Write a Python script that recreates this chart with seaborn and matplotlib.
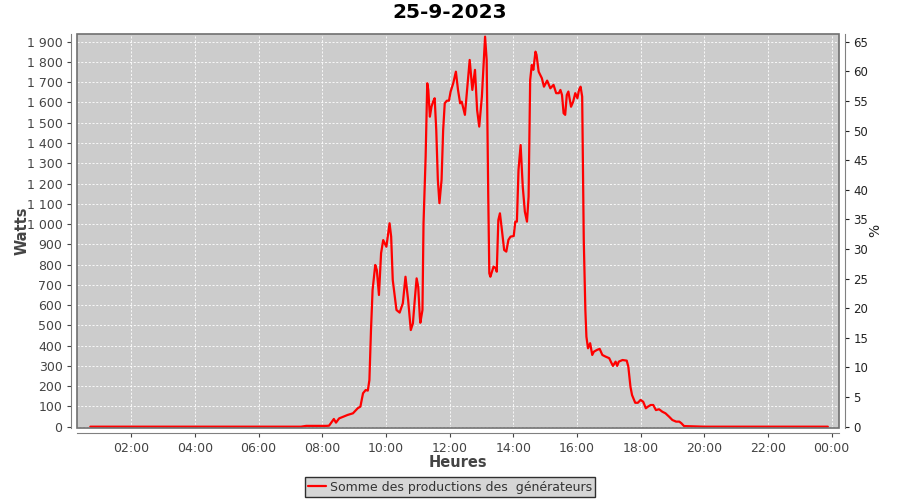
import matplotlib
matplotlib.use('Agg')
import matplotlib.pyplot as plt
import matplotlib.dates as mdates
from matplotlib.patches import Rectangle
import seaborn as sns
import pandas as pd

# heure de la mesure et puissance totale (W)
heures = ['00:43', '02:00', '04:00', '06:00', '07:20', '07:30', '08:08',
          '08:13', '08:22', '08:26', '08:32', '08:48', '08:58', '09:07', '09:12',
          '09:17', '09:22', '09:26', '09:29', '09:32', '09:35', '09:40', '09:43',
          '09:47', '09:51', '09:55', '10:01', '10:07', '10:10', '10:13', '10:20',
          '10:26', '10:32', '10:37', '10:42', '10:47', '10:51', '10:55', '10:58',
          '11:01', '11:04', '11:05', '11:09', '11:11', '11:15', '11:18', '11:20',
          '11:23', '11:26', '11:29', '11:32', '11:35', '11:38', '11:41', '11:45',
          '11:48', '11:51', '11:55', '11:59', '12:02', '12:07', '12:12', '12:16',
          '12:20', '12:23', '12:29', '12:32', '12:38', '12:43', '12:48', '12:52',
          '12:56', '13:01', '13:04', '13:07', '13:10', '13:13', '13:15', '13:17',
          '13:23', '13:27', '13:29', '13:32', '13:35', '13:38', '13:43', '13:47',
          '13:51', '13:55', '14:01', '14:04', '14:07', '14:10', '14:14', '14:18',
          '14:22', '14:26', '14:29', '14:32', '14:35', '14:38', '14:42', '14:44',
          '14:48', '14:54', '14:58', '15:04', '15:10', '15:16', '15:21', '15:26',
          '15:29', '15:32', '15:35', '15:38', '15:41', '15:44', '15:49', '15:53',
          '15:57', '16:01', '16:04', '16:07', '16:10', '16:13', '16:16', '16:18',
          '16:21', '16:25', '16:29', '16:32', '16:38', '16:43', '16:48', '16:54',
          '17:01', '17:04', '17:08', '17:13', '17:16', '17:19', '17:26', '17:34',
          '17:37', '17:41', '17:44', '17:50', '17:55', '18:00', '18:05', '18:10',
          '18:14', '18:19', '18:24', '18:29', '18:35', '18:41', '18:47', '18:54',
          '19:00', '19:07', '19:13', '19:17', '19:22', '20:00', '22:00', '23:53']
watts = [0, 0, 0, 0, 0, 4, 4,
         5, 38, 20, 41, 58, 66, 91, 99,
         165, 181, 178, 230, 477, 675, 798, 773,
         650, 856, 921, 888, 1004, 938, 724, 576,
         563, 609, 740, 625, 477, 510, 642, 732,
         691, 543, 513, 576, 1004, 1333, 1695, 1662,
         1530, 1579, 1604, 1621, 1464, 1218, 1103, 1218,
         1464, 1596, 1609, 1609, 1653, 1695, 1752, 1662,
         1596, 1604, 1539, 1629, 1810, 1662, 1761, 1563,
         1481, 1629, 1777, 1925, 1810, 1135, 757, 740,
         790, 782, 765, 1020, 1053, 987, 872, 864,
         922, 938, 941, 1012, 1012, 1267, 1390, 1185,
         1061, 1012, 1135, 1711, 1785, 1761, 1851, 1835,
         1752, 1720, 1678, 1708, 1670, 1687, 1646, 1646,
         1662, 1637, 1547, 1539, 1637, 1654, 1579, 1604,
         1646, 1621, 1662, 1678, 1629, 922, 576, 444,
         387, 412, 354, 370, 379, 384, 354, 346,
         338, 321, 300, 321, 300, 321, 329, 326,
         296, 197, 156, 118, 118, 132, 123, 91,
         99, 107, 107, 82, 86, 74, 66, 49,
         33, 25, 25, 17, 3, 0, 0, 0]

watt_ticks = list(range(0, 2000, 100))
pct_ticks = list(range(0, 70, 5))
serie = 'Somme des productions des  générateurs'

df = pd.DataFrame({'heure': pd.to_datetime(['2023-09-25 ' + h for h in heures]),
                   'watts': watts})

sns.set_style('darkgrid', {'axes.facecolor': '#cccccc', 'grid.color': 'white',
                           'grid.linestyle': '--'})
plt.rcParams['font.family'] = ['DejaVu Sans']

fig = plt.figure(figsize=(9, 5), dpi=100)
ax = fig.add_axes([0.0856, 0.145, 0.8466, 0.787])
sns.lineplot(data=df, x='heure', y='watts', color='#ff0000', linewidth=1.6,
             ax=ax, label=serie, legend=False)

ax.set_xlim(pd.Timestamp('2023-09-25 00:18'), pd.Timestamp('2023-09-26 00:14'))
ax.set_ylim(-4, 1938)
ax.set_yticks(watt_ticks)
ax.set_yticklabels([f'{v:,}'.replace(',', '\u00a0') for v in watt_ticks])
ax.xaxis.set_major_locator(mdates.HourLocator(byhour=range(0, 24, 2)))
ax.xaxis.set_major_formatter(mdates.DateFormatter('%H:%M'))
ax.grid(True, color='white', linestyle=(0, (2.5, 2)), linewidth=0.6)

for s in ['top', 'right']:
    ax.spines[s].set_visible(False)
for s in ['left', 'bottom']:
    ax.spines[s].set_visible(True)
    ax.spines[s].set_color('#808080')
    ax.spines[s].set_position(('outward', 4))
ax.add_patch(Rectangle((0, 0), 1, 1, transform=ax.transAxes, fill=False,
                       edgecolor='#707070', linewidth=1.2, clip_on=False, zorder=5))
ax.tick_params(axis='both', colors='#444444', labelsize=9, length=3,
               width=0.8, direction='out', left=True, bottom=True)
ax.set_xlabel('Heures', fontsize=10.5, fontweight='bold', color='#444444', labelpad=0)
ax.set_ylabel('Watts', fontsize=10.5, fontweight='bold', color='#444444', labelpad=-2)

ax2 = ax.twinx()
ax2.set_ylim(-4 * 65 / 1900, 1938 * 65 / 1900)
ax2.set_yticks(pct_ticks)
ax2.grid(False)
for s in ['top', 'left', 'bottom']:
    ax2.spines[s].set_visible(False)
ax2.spines['right'].set_visible(True)
ax2.spines['right'].set_color('#808080')
ax2.spines['right'].set_position(('outward', 4))
ax2.tick_params(axis='y', colors='#222222', labelsize=8.5, length=3,
                width=0.8, direction='out', right=True)
ax2.set_ylabel('%', fontsize=10, color='#222222', labelpad=0)

fig.suptitle('25-9-2023', fontsize=14.5, fontweight='bold', color='black', y=0.993)
h, l = ax.get_legend_handles_labels()
leg = fig.legend(h, l, loc='center', bbox_to_anchor=(0.5, 0.026), fontsize=9,
                 frameon=True, fancybox=False, edgecolor='black', borderpad=0.3,
                 handlelength=1.4, handletextpad=0.3)
leg.get_frame().set_linewidth(1)
for t in leg.get_texts():
    t.set_color('#333333')

fig.savefig('out.png', dpi=100)
